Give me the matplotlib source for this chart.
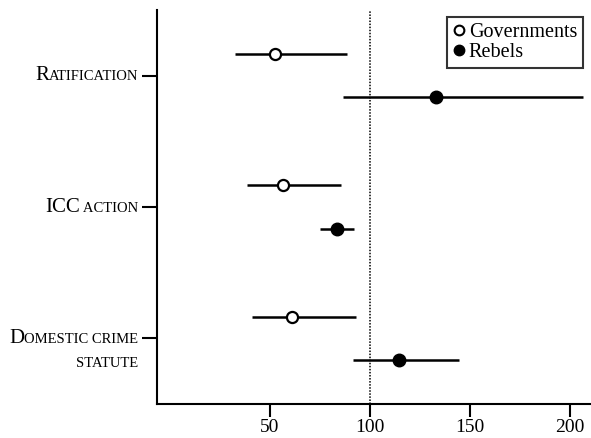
import matplotlib
matplotlib.use("Agg")
import matplotlib.pyplot as plt
from matplotlib.lines import Line2D
from matplotlib.offsetbox import AnnotationBbox, HPacker, TextArea

plt.rcParams["font.family"] = "Liberation Serif"

# rows top to bottom; labels as (text, size) pieces to fake small caps
row_pos = [3, 2, 1]
row_labels = [
    [[("R", 15), ("ATIFICATION", 10.5)]],
    [[("ICC", 15), (" ACTION", 10.5)]],
    [[("D", 15), ("OMESTIC CRIME", 10.5)], [("STATUTE", 10.5)]],
]

gov_est = [52.5, 56.3, 61.0]
gov_lo = [32.5, 38.3, 40.8]
gov_hi = [88.3, 85.3, 93.0]

reb_est = [133.0, 83.3, 114.7]
reb_lo = [86.3, 75.0, 91.7]
reb_hi = [206.3, 92.0, 144.7]

x_ticks = [50, 100, 150, 200]
ref_x = 100
offset = 0.165

fig = plt.figure(figsize=(5.91, 4.38), dpi=100)
ax = fig.add_axes([0.2657, 0.0776, 0.7343, 0.8995])

gy = [p + offset for p in row_pos]
ry = [p - offset for p in row_pos]

ax.axvline(ref_x, color="black", linestyle=(0, (1, 1)), lw=1.1, zorder=1)

ax.errorbar(gov_est, gy,
            xerr=[[e - l for e, l in zip(gov_est, gov_lo)],
                  [h - e for e, h in zip(gov_est, gov_hi)]],
            fmt="o", color="black", mfc="white", mec="black", mew=1.6,
            ms=8, elinewidth=1.8, capsize=0, zorder=3)
ax.errorbar(reb_est, ry,
            xerr=[[e - l for e, l in zip(reb_est, reb_lo)],
                  [h - e for e, h in zip(reb_est, reb_hi)]],
            fmt="o", color="black", mfc="black", mec="black",
            ms=9, elinewidth=1.8, capsize=0, zorder=3)

ax.set_xlim(-6.5, 210.5)
ax.set_ylim(0.5, 3.5)
ax.set_xticks(x_ticks)
ax.set_xticklabels([str(t) for t in x_ticks], fontsize=14)
ax.set_yticks(row_pos)
ax.set_yticklabels([])
ax.tick_params(axis="x", length=9, width=1.5, pad=2)
ax.tick_params(axis="y", length=11, width=1.5)
for side in ("top", "right"):
    ax.spines[side].set_visible(False)
for side in ("left", "bottom"):
    ax.spines[side].set_linewidth(1.5)

# small-caps style row labels
for pos, lines in zip(row_pos, row_labels):
    for i, pieces in enumerate(lines):
        box = HPacker(children=[TextArea(t, textprops=dict(fontsize=s))
                                for t, s in pieces],
                      align="baseline", pad=0, sep=0)
        ab = AnnotationBbox(box, (0, pos), xycoords=ax.get_yaxis_transform(),
                            xybox=(-13.5, -18 * i), boxcoords="offset points",
                            box_alignment=(1, 0.5), frameon=False)
        ax.add_artist(ab)

handles = [
    Line2D([], [], marker="o", ls="", color="black", mfc="white", mew=1.5, ms=7),
    Line2D([], [], marker="o", ls="", color="black", mfc="black", ms=7.5),
]
leg = ax.legend(handles, ["Governments", "Rebels"], loc="upper right",
                bbox_to_anchor=(0.982, 0.983), fontsize=14.5, frameon=True,
                fancybox=False, handlelength=0.6, handletextpad=0.2,
                borderpad=0.3, borderaxespad=0, labelspacing=0.05)
leg.get_frame().set_edgecolor("black")
leg.get_frame().set_linewidth(1.5)

fig.savefig("out.png", dpi=100)
